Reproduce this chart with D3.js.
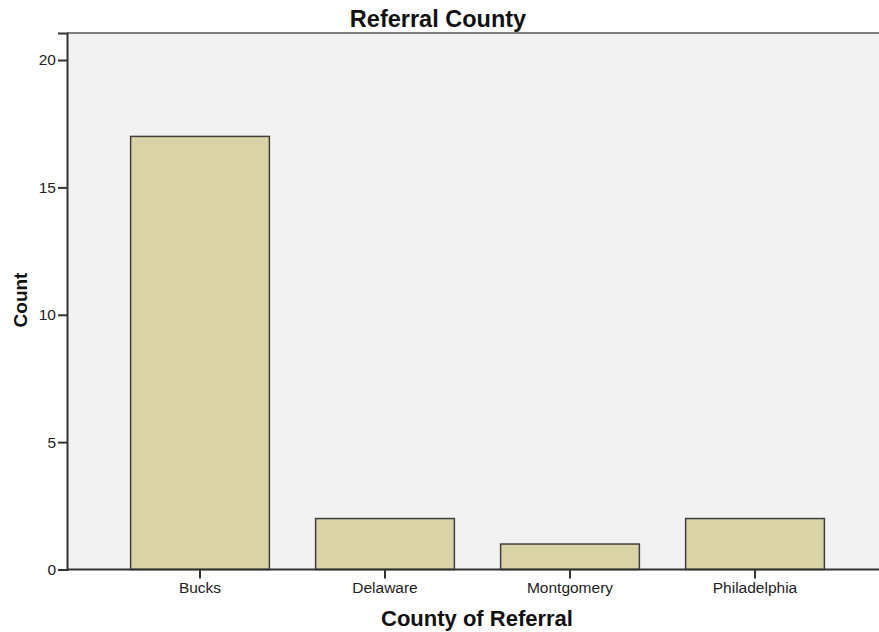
<!DOCTYPE html>
<html>
<head>
<meta charset="utf-8">
<script src="https://cdn.jsdelivr.net/npm/d3@7"></script>
<style>
  body { margin: 0; background: white; }
  text { font-family: "Liberation Sans", Arial, sans-serif; }
</style>
</head>
<body>
<svg width="879" height="632"></svg>
<script>
// Chart data
const counties = ['Bucks', 'Delaware', 'Montgomery', 'Philadelphia'];
const counts = [17, 2, 1, 2];
const yTicks = [0, 5, 10, 15, 20];

const width = 879;
const height = 632;
const plot = { left: 67, right: 879, top: 33, bottom: 569.5 };

const svg = d3.select('svg');

// Plot background
svg.append('rect')
  .attr('x', plot.left)
  .attr('y', plot.top)
  .attr('width', plot.right - plot.left + 5)
  .attr('height', plot.bottom - plot.top)
  .attr('fill', '#f2f2f2');

// Top border line
svg.append('line')
  .attr('x1', plot.left).attr('x2', plot.right + 5)
  .attr('y1', plot.top).attr('y2', plot.top)
  .attr('stroke', '#7f7f7f').attr('stroke-width', 2);

// Scales
const xScale = d3.scaleBand()
  .domain(counties)
  .range([107.5, 847.5])
  .paddingInner(0.25)
  .paddingOuter(0.125);

const yScale = d3.scaleLinear()
  .domain([0, 21.06])
  .range([plot.bottom, plot.top]);

// Bars
svg.append('g')
  .selectAll('rect')
  .data(counties.map((c, i) => ({ county: c, count: counts[i] })))
  .join('rect')
  .attr('x', d => xScale(d.county))
  .attr('y', d => yScale(d.count))
  .attr('width', xScale.bandwidth())
  .attr('height', d => yScale(0) - yScale(d.count))
  .attr('fill', '#d9d3a5')
  .attr('stroke', '#3f3f3f')
  .attr('stroke-width', 1.5);

// Y axis
const yAxis = d3.axisLeft(yScale).tickValues(yTicks).tickSize(9).tickPadding(2);
const yAxisGroup = svg.append('g')
  .attr('transform', `translate(${plot.left},0)`)
  .call(yAxis);
yAxisGroup.select('.domain').attr('stroke', '#333').attr('stroke-width', 2);
yAxisGroup.selectAll('.tick line').attr('stroke', '#333').attr('stroke-width', 2);
yAxisGroup.selectAll('.tick text').attr('font-size', '15.5px').attr('fill', '#222')
  .style('font-family', '"Liberation Sans", Arial, sans-serif');

// X axis
const xAxis = d3.axisBottom(xScale).tickSize(9).tickPadding(3).tickSizeOuter(0);
const xAxisGroup = svg.append('g')
  .attr('transform', `translate(0,${plot.bottom})`)
  .call(xAxis);
xAxisGroup.select('.domain').attr('d', `M${plot.left},0H${plot.right + 5}`)
  .attr('stroke', '#333').attr('stroke-width', 2);
xAxisGroup.selectAll('.tick line').attr('stroke', '#333').attr('stroke-width', 2);
xAxisGroup.selectAll('.tick text').attr('font-size', '15.5px').attr('fill', '#222')
  .style('font-family', '"Liberation Sans", Arial, sans-serif');

// Title
svg.append('text')
  .text('Referral County')
  .attr('x', 438)
  .attr('y', 27)
  .attr('text-anchor', 'middle')
  .attr('font-size', '23.5px')
  .attr('font-weight', 'bold')
  .attr('fill', '#111');

// X axis label
svg.append('text')
  .text('County of Referral')
  .attr('x', 477)
  .attr('y', 626)
  .attr('text-anchor', 'middle')
  .attr('font-size', '22px')
  .attr('font-weight', 'bold')
  .attr('fill', '#111');

// Y axis label
svg.append('text')
  .text('Count')
  .attr('transform', 'translate(27,300) rotate(-90)')
  .attr('text-anchor', 'middle')
  .attr('font-size', '19px')
  .attr('font-weight', 'bold')
  .attr('fill', '#111');
</script>
</body>
</html>
